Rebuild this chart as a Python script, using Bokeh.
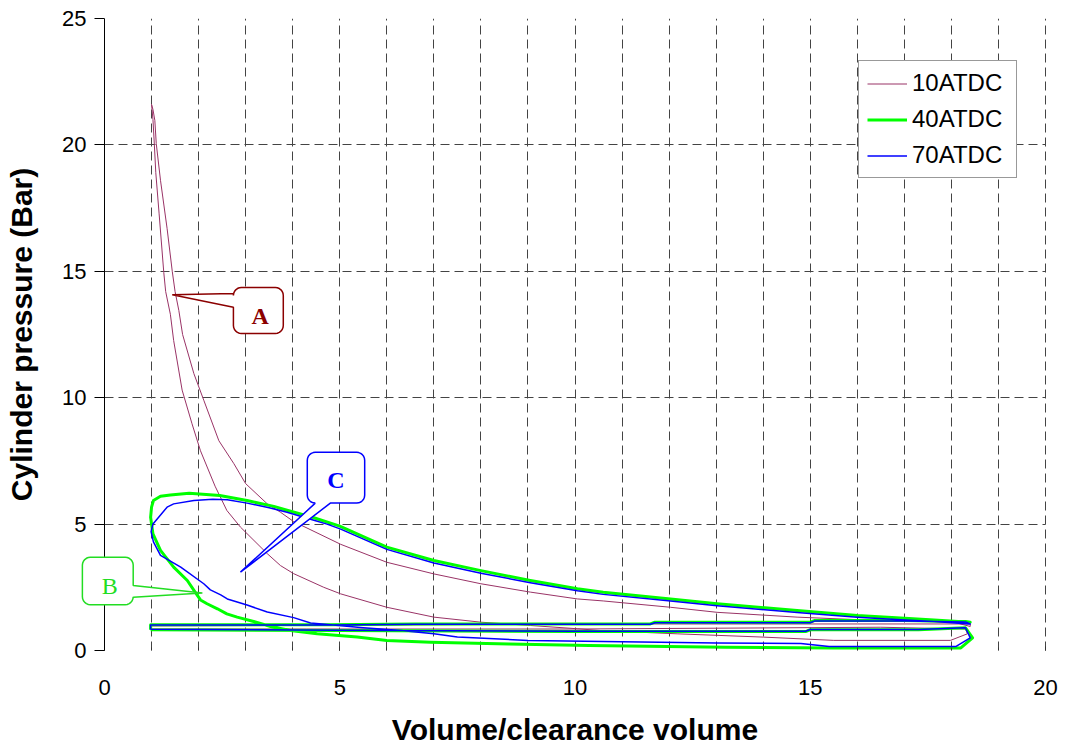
import numpy as np
from bokeh.plotting import figure
from bokeh.models import Range1d, FixedTicker, Legend, LegendItem, PolyAnnotation, Label, Span
from bokeh.embed import file_html
from bokeh.resources import INLINE

# ---------------- data (volume ratio V/Vc, pressure in bar) ----------------
# 10ATDC
int10_v = [1.0, 4.3, 10.0, 16.5, 18.3]
int10_p = [0.85, 0.85, 0.85, 0.92, 0.85]
comp10_v = [18.34, 17.98, 15.5, 14.0, 12.17, 10.54, 10.05, 9.05, 8.0, 7.0, 6.0, 5.02, 4.66, 4.02,
            3.74, 3.46, 2.89, 2.6, 2.35, 2.04, 1.86, 1.65, 1.47, 1.40, 1.30, 1.26, 1.16, 1.09,
            1.06, 1.03, 1.01, 1.0]
comp10_p = [0.66, 0.40, 0.40, 0.53, 0.66, 0.79, 0.86, 0.99, 1.12, 1.32, 1.71, 2.24, 2.50, 3.04,
            3.36, 3.83, 4.88, 5.54, 6.5, 7.9, 8.97, 10.3, 12.26, 13.3, 14.2, 14.95, 17.3, 18.9,
            20.0, 21.0, 21.4, 21.6]
exp10_v = [1.0, 1.03, 1.07, 1.10, 1.19, 1.33, 1.44, 1.50, 1.58, 1.66, 1.90, 2.11, 2.43, 2.75,
           3.00, 3.46, 3.74, 4.02, 5.02, 6.0, 7.0, 8.0, 9.05, 10.05, 10.6, 12.03, 13.02, 14.72,
           16.0, 18.05, 18.40]
exp10_p = [21.6, 21.4, 20.97, 20.05, 18.6, 16.7, 15.0, 14.2, 13.45, 12.5, 10.95, 9.9, 8.3, 7.39,
           6.6, 5.8, 5.47, 5.1, 4.2, 3.49, 3.03, 2.64, 2.31, 2.04, 1.96, 1.71, 1.51, 1.32,
           1.22, 1.12, 0.95]
exh10_v = [18.4, 16.0, 10.0, 5.0, 1.0]
exh10_p = [1.05, 1.05, 1.05, 1.0, 0.97]

# 40ATDC
int40_v = [0.98, 5.0, 10.0, 14.9, 15.0, 17.3, 18.3]
int40_p = [0.82, 0.79, 0.75, 0.75, 0.82, 0.82, 0.90]
comp40_v = [18.45, 18.2, 15.5, 13.2, 10.3, 8.6, 6.93, 6.0, 5.37, 4.52, 3.95, 3.53, 3.17, 2.82,
            2.6, 2.4, 2.18, 2.04, 1.93, 1.76, 1.47, 1.19, 1.03, 0.98, 1.0, 1.04]
comp40_p = [0.5, 0.1, 0.1, 0.13, 0.2, 0.26, 0.33, 0.4, 0.53, 0.66, 0.79, 0.95, 1.15, 1.32,
            1.45, 1.65, 1.85, 2.0, 2.3, 2.77, 3.3, 3.96, 4.61, 5.27, 5.67, 5.93]
exp40_v = [1.04, 1.19, 1.4, 1.8, 2.45, 3.03, 3.6, 3.88, 4.45, 5.0, 6.0, 7.0, 8.0, 9.05, 10.05,
           10.6, 12.03, 13.02, 14.72, 16.0, 16.92, 17.63, 18.4]
exp40_p = [5.93, 6.1, 6.15, 6.22, 6.13, 5.93, 5.7, 5.55, 5.25, 4.92, 4.09, 3.56, 3.16, 2.77,
           2.44, 2.3, 2.04, 1.85, 1.58, 1.38, 1.29, 1.21, 1.12]
exh40_v = [18.3, 17.0, 15.1, 15.0, 11.7, 11.6, 6.6, 4.8, 0.98]
exh40_p = [1.15, 1.19, 1.19, 1.12, 1.12, 1.05, 1.05, 1.02, 1.02]

# 70ATDC
int70_v = [0.98, 5.0, 10.0, 14.9, 15.0, 17.3, 18.3]
int70_p = [0.84, 0.80, 0.76, 0.76, 0.83, 0.83, 0.90]
comp70_v = [18.4, 18.1, 15.4, 14.8, 13.0, 11.0, 9.0, 7.5, 7.0, 6.3, 5.5, 4.8, 4.38, 4.02, 3.46,
            3.03, 2.61, 2.47, 2.25, 2.11, 1.62, 1.19, 1.04, 0.99, 1.03]
comp70_p = [0.5, 0.16, 0.16, 0.28, 0.3, 0.35, 0.4, 0.53, 0.66, 0.79, 0.9, 1.02, 1.09, 1.3, 1.52,
            1.8, 2.04, 2.2, 2.4, 2.64, 3.3, 3.76, 4.3, 4.7, 5.0]
exp70_v = [1.03, 1.12, 1.33, 1.47, 1.9, 2.3, 2.61, 3.03, 3.5, 3.88, 4.45, 4.73, 5.02, 6.0, 7.0,
           8.0, 9.05, 10.05, 10.6, 12.03, 13.02, 14.72, 16.0, 16.92, 17.63, 18.4]
exp70_p = [5.0, 5.2, 5.67, 5.8, 5.93, 5.98, 5.96, 5.83, 5.65, 5.47, 5.15, 5.0, 4.8, 4.0, 3.46,
           3.06, 2.68, 2.36, 2.22, 1.96, 1.77, 1.5, 1.32, 1.22, 1.15, 1.05]
exh70_v = [18.3, 17.0, 15.1, 15.0, 11.7, 11.6, 6.6, 4.8, 0.98]
exh70_p = [1.13, 1.17, 1.17, 1.10, 1.10, 1.04, 1.04, 1.01, 1.01]

series_names = ["10ATDC", "40ATDC", "70ATDC"]
series_colors = ["#993366", "#00FF00", "#0000FF"]
series_widths = [1.0, 3.0, 1.5]

x_ticks = [0, 5, 10, 15, 20]
x_grid = list(range(0, 21))
y_ticks = [0, 5, 10, 15, 20, 25]
x_axis_at = 0          # the pressure axis sits at V/Vc = 0
x_data_end = 20

# callouts
callout_text = ["A", "B", "C"]
callout_color = ["#8B0000", "#22DD22", "#0000FF"]
callout_bold = [True, False, True]
box_x0 = [2.74, -0.47, 4.31]
box_x1 = [3.80, 0.61, 5.53]
box_y0 = [12.54, 1.81, 5.83]
box_y1 = [14.36, 3.69, 7.84]
tip_x = [1.44, 2.08, 2.89]
tip_y = [14.07, 2.27, 3.10]
wedge_side = ["left", "right", "bottom"]
wedge_b0 = [14.12, 2.57, 4.48]
wedge_b1 = [13.58, 2.11, 4.80]
text_x = [3.31, 0.11, 4.92]
text_y = [13.25, 2.57, 6.75]


def path(*parts):
    xs, ys = [], []
    for v, pp in parts:
        xs += list(v)
        ys += list(pp)
    xs.append(xs[0])
    ys.append(ys[0])
    return xs, ys


curves = [
    path((int10_v, int10_p), (comp10_v, comp10_p), (exp10_v, exp10_p), (exh10_v, exh10_p)),
    path((int40_v, int40_p), (comp40_v, comp40_p), (exp40_v, exp40_p), (exh40_v, exh40_p)),
    path((int70_v, int70_p), (comp70_v, comp70_p), (exp70_v, exp70_p), (exh70_v, exh70_p)),
]

FONT = "Liberation Sans"
PX_X = 47.05   # pixels per x unit
PX_Y = 25.28   # pixels per y unit
PAD = 28       # frame extends this many pixels beyond V/Vc = 0 and 20 (callout B is not clipped)

p = figure(width=1074, height=748, output_backend="svg", toolbar_location=None,
           x_range=Range1d(x_axis_at - PAD / PX_X, x_data_end + PAD / PX_X),
           y_range=Range1d(0, 25),
           min_border_left=104 - PAD, min_border_right=1, min_border_top=18,
           min_border_bottom=98)
p.outline_line_color = None
p.background_fill_color = "white"
p.border_fill_color = "white"

# grids
p.xgrid.ticker = FixedTicker(ticks=x_grid)
p.ygrid.ticker = FixedTicker(ticks=y_ticks)
for g in (p.xgrid, p.ygrid):
    g.grid_line_color = "#444444"
    g.grid_line_dash = "9 5"
    g.grid_line_width = 1
try:
    p.ygrid.cross_bounds = (x_axis_at, x_data_end)
except Exception:
    p.ygrid.visible = False
    p.segment(x0=[x_axis_at] * len(y_ticks), x1=[x_data_end] * len(y_ticks), y0=y_ticks, y1=y_ticks,
              line_color="#444444", line_dash="9 5", line_width=1)

# axes
p.xaxis.ticker = FixedTicker(ticks=x_ticks, minor_ticks=x_grid)
p.yaxis.ticker = FixedTicker(ticks=y_ticks)
p.xaxis.axis_line_color = None
p.xaxis.major_tick_in = 4
p.xaxis.major_tick_out = 0
p.xaxis.minor_tick_in = 3
p.xaxis.minor_tick_out = 0
p.xaxis.major_tick_line_color = "#333333"
p.xaxis.minor_tick_line_color = "#333333"
p.xaxis.major_label_standoff = 29
# y axis sits at the frame edge (PAD px left of V/Vc = 0): shift ticks and labels to V/Vc = 0
p.yaxis.axis_line_color = None
p.yaxis.major_tick_in = PAD
p.yaxis.major_tick_out = 10 - PAD
p.yaxis.minor_tick_in = 0
p.yaxis.minor_tick_out = 10 - PAD
p.yaxis.major_tick_line_color = "black"
p.yaxis.minor_tick_line_color = None
p.yaxis.major_label_standoff = 18 - PAD
for ax in (p.xaxis, p.yaxis):
    ax.major_label_text_font = FONT
    ax.major_label_text_font_size = "22px"
    ax.major_label_text_color = "black"
    ax.axis_label_text_font = FONT
    ax.axis_label_text_font_style = "bold"
    ax.axis_label_text_color = "black"
    ax.axis_label_text_font_size = "30px"
p.xaxis.axis_label = "Volume/clearance volume"
p.xaxis.axis_label_standoff = 15
p.yaxis.axis_label = "Cylinder pressure (Bar)"
p.yaxis.axis_label_standoff = 21

renderers = []
for (xs, ys), c, w in zip(curves, series_colors, series_widths):
    r = p.line(xs, ys, line_color=c, line_width=w, line_join="round")
    renderers.append(r)

# the solid pressure-axis line at V/Vc = 0
p.add_layout(Span(location=x_axis_at, dimension="height", line_color="black", line_width=1))

legend = Legend(items=[LegendItem(label=n, renderers=[r]) for n, r in zip(series_names, renderers)],
                location=(754 + PAD, 472))
legend.label_text_font = FONT
legend.label_text_font_size = "24px"
legend.label_text_color = "black"
legend.glyph_width = 40
legend.glyph_height = 27
legend.label_height = 27
legend.label_width = 96
legend.label_standoff = 5
legend.spacing = 8
legend.padding = 8
legend.margin = 0
legend.border_line_color = "#333333"
legend.border_line_width = 1
legend.background_fill_color = "white"
legend.background_fill_alpha = 1
p.add_layout(legend)

# callouts
RX = 8 / PX_X
RY = 8 / PX_Y


def callout_poly(x0, x1, y0, y1, side, b0, b1, tx, ty, n=7):
    pts = []

    def arc(cx, cy, a0, a1):
        return [(cx + RX * np.cos(a), cy + RY * np.sin(a)) for a in np.linspace(a0, a1, n)]

    pts += arc(x0 + RX, y1 - RY, np.pi, np.pi / 2)
    pts += arc(x1 - RX, y1 - RY, np.pi / 2, 0)
    if side == "right":
        pts += [(x1, b0), (tx, ty), (x1, b1)]
    pts += arc(x1 - RX, y0 + RY, 0, -np.pi / 2)
    if side == "bottom":
        pts += [(b1, y0), (tx, ty), (b0, y0)]
    pts += arc(x0 + RX, y0 + RY, -np.pi / 2, -np.pi)
    if side == "left":
        pts += [(x0, b1), (tx, ty), (x0, b0)]
    return [float(a) for a, _ in pts], [float(b) for _, b in pts]


for i in range(len(callout_text)):
    col = callout_color[i]
    xs, ys = callout_poly(box_x0[i], box_x1[i], box_y0[i], box_y1[i], wedge_side[i],
                          wedge_b0[i], wedge_b1[i], tip_x[i], tip_y[i])
    p.add_layout(PolyAnnotation(xs=xs, ys=ys, fill_color="white", fill_alpha=1,
                                line_color=col, line_alpha=1, line_width=1.5))
    p.add_layout(Label(x=text_x[i], y=text_y[i], text=callout_text[i],
                       text_font="Liberation Serif", text_font_size="24px",
                       text_font_style="bold" if callout_bold[i] else "normal",
                       text_color=col, text_align="center", text_baseline="middle"))

open("out.html", "w").write(file_html(p, INLINE))
